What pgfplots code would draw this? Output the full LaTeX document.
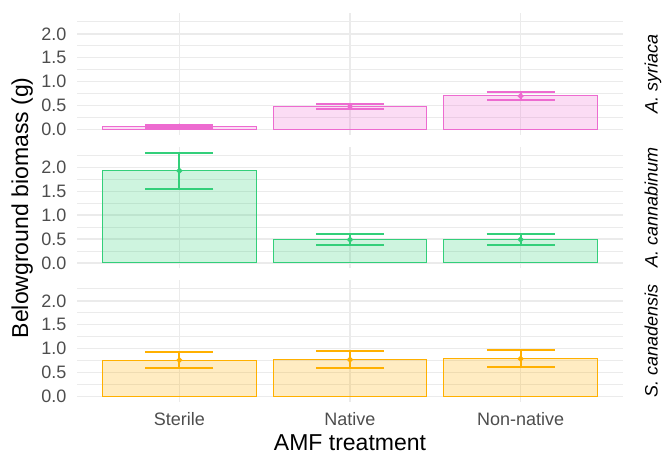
\documentclass[border=0pt]{standalone}
\usepackage{pgfplots}
\pgfplotsset{compat=1.18}
\usepackage{fontspec}
\setmainfont{Liberation Sans}
\definecolor{cpink}{HTML}{ED6BD0}
\definecolor{cgreen}{HTML}{33CF7A}
\definecolor{corange}{HTML}{FFB000}
\definecolor{gridc}{HTML}{EBEBEB}
\definecolor{tickc}{HTML}{4D4D4D}
\pgfplotsset{
  panel/.style={
    scale only axis, width=546pt, height=121.5pt,
    xmin=0.4, xmax=3.6, ymin=-0.1155, ymax=2.4255,
    axis line style={draw=none}, tick style={draw=none},
    xtick={1,2,3}, xticklabels={,,},
    ytick={0,0.5,1,1.5,2}, yticklabels={0.0,0.5,1.0,1.5,2.0},
    minor ytick={0.25,0.75,1.25,1.75,2.25},
    xmajorgrids, ymajorgrids, yminorgrids,
    major grid style={gridc, line width=1.4pt},
    minor grid style={gridc, line width=0.8pt},
    yticklabel style={anchor=east, inner sep=0pt, xshift=-10.3pt, font=\fontsize{18}{20}\selectfont, text=tickc},
    xticklabel style={anchor=base, yshift=-23.7pt, font=\fontsize{18}{20}\selectfont, text=tickc},
    anchor=south west,
  },
  barsty/.style={ybar, bar width=0.9, fill=#1, fill opacity=0.24, draw=#1, line width=1pt},
  errsty/.style={only marks, mark=*, mark size=1.8pt, color=#1, line width=2pt,
    error bars/.cd, y dir=both, y explicit, error mark=|,
    error bar style={line width=2pt, color=#1, solid},
    error mark options={mark size=34pt, line width=2pt, color=#1, solid}},
}
\begin{document}
\begin{tikzpicture}
\path[use as bounding box] (0,0) rectangle (662pt,454pt);
% Panel 1: A. syriaca
\begin{axis}[panel, at={(77pt,319pt)}]
\addplot[barsty=cpink] coordinates {(1,0.06) (2,0.48) (3,0.70)};
\addplot[errsty=cpink] coordinates {
  (1,0.06) += (0,0.03) -= (0,0.02)
  (2,0.48) += (0,0.06) -= (0,0.06)
  (3,0.70) += (0,0.085) -= (0,0.085)};
\end{axis}
% Panel 2: A. cannabinum
\begin{axis}[panel, at={(77pt,185.5pt)}]
\addplot[barsty=cgreen] coordinates {(1,1.93) (2,0.49) (3,0.49)};
\addplot[errsty=cgreen] coordinates {
  (1,1.93) += (0,0.38) -= (0,0.39)
  (2,0.49) += (0,0.11) -= (0,0.12)
  (3,0.49) += (0,0.12) -= (0,0.115)};
\end{axis}
% Panel 3: S. canadensis
\begin{axis}[panel, at={(77pt,52pt)}, xticklabels={Sterile,Native,Non-native}]
\addplot[barsty=corange] coordinates {(1,0.76) (2,0.77) (3,0.79)};
\addplot[errsty=corange] coordinates {
  (1,0.76) += (0,0.18) -= (0,0.17)
  (2,0.77) += (0,0.18) -= (0,0.18)
  (3,0.79) += (0,0.19) -= (0,0.18)};
\end{axis}
% strip labels
\node[rotate=90, anchor=base, font=\fontsize{18}{20}\selectfont\itshape] at (657.5pt,379.75pt) {A. syriaca};
\node[rotate=90, anchor=base, font=\fontsize{18}{20}\selectfont\itshape] at (657.5pt,246.25pt) {A. cannabinum};
\node[rotate=90, anchor=base, font=\fontsize{18}{20}\selectfont\itshape] at (657.5pt,112.75pt) {S. canadensis};
% axis titles
\node[rotate=90, anchor=base, font=\fontsize{23}{26}\selectfont] at (28pt,246.25pt) {Belowground biomass (g)};
\node[anchor=base, font=\fontsize{23}{26}\selectfont] at (350pt,3.5pt) {AMF treatment};
\end{tikzpicture}
\end{document}
